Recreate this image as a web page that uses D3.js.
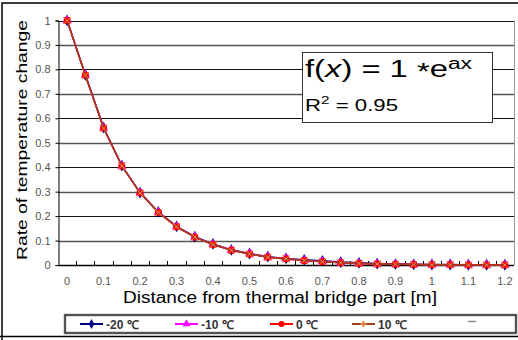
<!DOCTYPE html>
<html>
<head>
<meta charset="utf-8">
<script src="https://cdn.jsdelivr.net/npm/d3@7"></script>
<style>
  body { margin: 0; background: #fff; }
  text { font-family: "Liberation Sans", Arial, sans-serif; }
</style>
</head>
<body>
<div id="chart"></div>
<script>
// distance categories [m]
var distances = ["0","0.05","0.1","0.15","0.2","0.25","0.3","0.35","0.4","0.45","0.5","0.55","0.6",
                 "0.65","0.7","0.75","0.8","0.85","0.9","0.95","1","1.05","1.1","1.15","1.2"];
var xTickLabels = ["0","0.1","0.2","0.3","0.4","0.5","0.6","0.7","0.8","0.9","1","1.1","1.2"];
var yTicks = [0,0.1,0.2,0.3,0.4,0.5,0.6,0.7,0.8,0.9,1];

var seriesNames = ["-20 \u2103", "-10 \u2103", "0 \u2103", "10 \u2103"];
var valsM20 = [1,0.778,0.562,0.406,0.296,0.217,0.158,0.116,0.086,0.062,0.047,0.034,0.027,0.021,0.017,0.012,0.009,0.006,0.004,0.003,0.002,0.002,0.001,0.001,0.001];
var valsM10 = [1,0.777,0.561,0.405,0.295,0.216,0.157,0.115,0.085,0.061,0.046,0.033,0.026,0.019,0.014,0.010,0.007,0.005,0.003,0.002,0.001,0.001,0.001,0,0];
var vals0   = [1,0.776,0.560,0.405,0.295,0.215,0.156,0.114,0.084,0.060,0.045,0.032,0.025,0.018,0.013,0.009,0.006,0.004,0.003,0.002,0.001,0.001,0,0,0];
var vals10  = [1,0.776,0.560,0.405,0.295,0.215,0.156,0.114,0.084,0.060,0.045,0.032,0.025,0.018,0.013,0.009,0.006,0.004,0.003,0.002,0.001,0.001,0,0,0];
var seriesValues = [valsM20, valsM10, vals0, vals10];
var seriesColors = ["#000080", "#ff00ff", "#ff0000", "#a0401c"];

var svg = d3.select("#chart").append("svg")
  .attr("width", 518)
  .attr("height", 340);

var plotLeft = 58, plotRight = 514, plotTop = 20.5, plotBottom = 265;

var x = d3.scalePoint().domain(distances).range([plotLeft, plotRight]).padding(0.5);
var y = d3.scaleLinear().domain([0, 1]).range([plotBottom, plotTop]);
var step = x.step();

// figure frame
svg.append("path").attr("d", "M2,340V3H518").attr("fill", "none").attr("stroke", "#000").attr("stroke-width", 1.5);
svg.append("line").attr("x1", 0).attr("x2", 518).attr("y1", 336.5).attr("y2", 336.5)
  .attr("stroke", "#000").attr("stroke-width", 1.5);

// gridlines
svg.append("g").selectAll("line").data(yTicks.slice(1)).enter().append("line")
  .attr("x1", plotLeft).attr("x2", plotRight)
  .attr("y1", function (d) { return Math.round(y(d)) + 0.5; })
  .attr("y2", function (d) { return Math.round(y(d)) + 0.5; })
  .attr("stroke", function (d, i) { return i % 2 ? "#111" : "#555"; })
  .attr("stroke-width", function (d, i) { return i % 2 ? 1.2 : 1.6; });

// plot right border
svg.append("line").attr("x1", plotRight + 0.5).attr("x2", plotRight + 0.5).attr("y1", plotTop).attr("y2", plotBottom)
  .attr("stroke", "#999");

// y axis
var yAxis = d3.axisLeft(y).tickValues(yTicks).tickSize(3).tickPadding(5)
  .tickFormat(function (d) { return d3.format("")(+d.toFixed(1)); });
var gy = svg.append("g").attr("transform", "translate(" + (plotLeft + 0.5) + ",0)").call(yAxis);
gy.select(".domain").attr("stroke", "#000");
gy.selectAll(".tick line").attr("stroke", "#000");
gy.selectAll("text").attr("fill", "#555").style("font-size", "11px")
  .style("font-family", "'Liberation Sans', Arial, sans-serif");

// x axis (ticks at category boundaries, pointing inward)
svg.append("line").attr("x1", plotLeft).attr("x2", plotRight).attr("y1", plotBottom + 0.5).attr("y2", plotBottom + 0.5)
  .attr("stroke", "#000").attr("stroke-width", 1.5);
svg.append("g").selectAll("line").data(distances.slice(1)).enter().append("line")
  .attr("x1", function (d) { return Math.round(x(d) - step / 2) + 0.5; })
  .attr("x2", function (d) { return Math.round(x(d) - step / 2) + 0.5; })
  .attr("y1", plotBottom).attr("y2", plotBottom - 4)
  .attr("stroke", "#000");
svg.append("g").selectAll("text").data(xTickLabels).enter().append("text")
  .attr("x", function (d) { return x(d); })
  .attr("y", 285)
  .attr("text-anchor", "middle")
  .attr("fill", "#555")
  .style("font-size", "11px")
  .text(function (d) { return d; });

// axis titles
svg.append("text").attr("x", 280).attr("y", 303).attr("text-anchor", "middle")
  .style("font-size", "16px").attr("fill", "#000")
  .attr("textLength", 314).attr("lengthAdjust", "spacingAndGlyphs")
  .text("Distance from thermal bridge part [m]");
svg.append("text").attr("transform", "translate(27,140) rotate(-90)").attr("text-anchor", "middle")
  .style("font-size", "15.5px").attr("fill", "#000")
  .attr("textLength", 240).attr("lengthAdjust", "spacingAndGlyphs")
  .text("Rate of temperature change");

// series
var line = d3.line()
  .x(function (d, i) { return x(distances[i]); })
  .y(function (d) { return y(d); });

var symbols = [d3.symbolDiamond, d3.symbolTriangle, d3.symbolSquare, d3.symbolTimes || d3.symbolX];
var symbolSizes = [40, 38, 44, 34];
seriesValues.forEach(function (vals, s) {
  svg.append("path").datum(vals)
    .attr("d", line).attr("fill", "none")
    .attr("stroke", seriesColors[s]).attr("stroke-width", 1.5);
  svg.append("g").selectAll("path").data(vals).enter().append("path")
    .attr("transform", function (d, i) { return "translate(" + x(distances[i]) + "," + y(d) + ")"; })
    .attr("d", d3.symbol().type(symbols[s]).size(symbolSizes[s]))
    .attr("fill", s == 3 ? "none" : seriesColors[s])
    .attr("stroke", s == 3 ? "#e8905a" : "none")
    .attr("stroke-width", 1);
});

// equation box
svg.append("rect").attr("x", 302.5).attr("y", 52.5).attr("width", 190).attr("height", 70)
  .attr("fill", "#fff").attr("stroke", "#333").attr("stroke-width", 1);
var eq = svg.append("text").attr("x", 305).attr("y", 77).style("font-size", "23px").attr("fill", "#000")
  .attr("textLength", 167).attr("lengthAdjust", "spacingAndGlyphs");
eq.append("tspan").text("f(");
eq.append("tspan").style("font-style", "italic").text("x");
eq.append("tspan").text(") = 1 ");
eq.append("tspan").text("*").attr("dy", 3);
eq.append("tspan").text("e").attr("dy", -3);
eq.append("tspan").text("ax").style("font-size", "16px").attr("dy", -8);
var r2 = svg.append("text").attr("x", 305).attr("y", 111).style("font-size", "16px").attr("fill", "#000")
  .attr("textLength", 93).attr("lengthAdjust", "spacingAndGlyphs");
r2.append("tspan").text("R");
r2.append("tspan").text("2").style("font-size", "11px").attr("dy", -7);
r2.append("tspan").text(" = 0.95").attr("dy", 7);

// legend
svg.append("rect").attr("x", 65).attr("y", 315).attr("width", 451).attr("height", 18)
  .attr("fill", "#fff").attr("stroke", "#777").attr("stroke-width", 2.5);
svg.append("rect").attr("x", 65).attr("y", 315).attr("width", 451).attr("height", 18)
  .attr("fill", "none").attr("stroke", "#000").attr("stroke-width", 0.6);
var legendX = [80, 175, 270, 352];
var legendSymbols = [d3.symbolDiamond, d3.symbolTriangle, d3.symbolCircle, d3.symbolCross];
seriesNames.forEach(function (name, s) {
  var g = svg.append("g").attr("transform", "translate(" + legendX[s] + ",324)");
  g.append("line").attr("x1", 0).attr("x2", 23).attr("stroke", seriesColors[s]).attr("stroke-width", 2);
  g.append("path").attr("transform", "translate(11.5,0)")
    .attr("d", d3.symbol().type(legendSymbols[s]).size(s == 3 ? 20 : 28))
    .attr("fill", s == 3 ? "#e08040" : seriesColors[s]);
  g.append("text").attr("x", 26).attr("y", 4.5).style("font-size", "12px").style("font-weight", "bold")
    .attr("fill", "#333").text(name);
});
svg.append("line").attr("x1", 468).attr("x2", 476).attr("y1", 321.5).attr("y2", 321.5)
  .attr("stroke", "#888").attr("stroke-width", 1.5);
</script>
</body>
</html>
